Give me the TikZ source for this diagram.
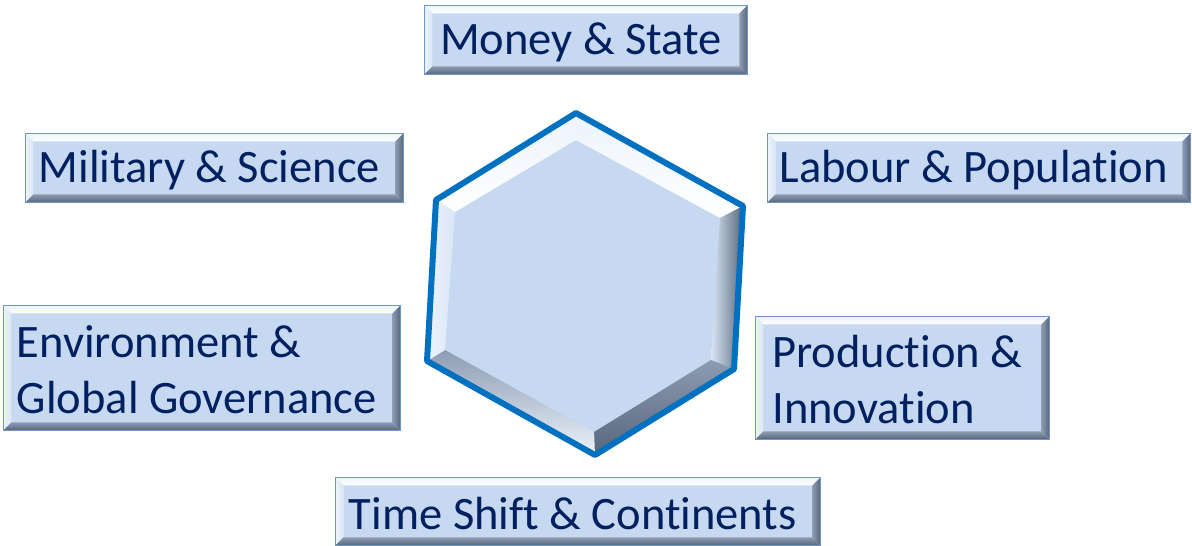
\documentclass[tikz,border=0pt]{standalone}
\usepackage{fontspec}
\setmainfont{Carlito}[Ligatures=NoCommon]
\usetikzlibrary{calc}
\definecolor{boxfill}{RGB}{198,217,241}
\definecolor{boxline}{RGB}{110,150,205}
\definecolor{navy}{RGB}{0,32,96}
\definecolor{hexblue}{RGB}{0,112,192}
\definecolor{bevlight}{RGB}{236,243,251}
\definecolor{bevleft}{RGB}{218,230,245}
\definecolor{bevdarkA}{RGB}{140,156,178}
\definecolor{bevdarkB}{RGB}{88,102,124}
\newcommand{\padR}{\hspace*{10pt}}
\tikzset{
  bevbox/.style={draw=boxline, line width=0.8pt, fill=boxfill, text=navy,
    font=\fontsize{46.5}{56}\selectfont, inner sep=0pt, align=left,
    anchor=north west,
    path picture={
      \coordinate (nw) at (path picture bounding box.north west);
      \coordinate (ne) at (path picture bounding box.north east);
      \coordinate (sw) at (path picture bounding box.south west);
      \coordinate (se) at (path picture bounding box.south east);
      \shade[top color=bevlight, bottom color=white]
        (nw) -- (ne) -- ($(ne)+(-8pt,-8pt)$) -- ($(nw)+(8pt,-8pt)$) -- cycle;
      \shade[left color=bevlight, right color=bevleft]
        (nw) -- ($(nw)+(8pt,-8pt)$) -- ($(sw)+(8pt,8pt)$) -- (sw) -- cycle;
      \shade[left color=bevdarkA, right color=bevdarkB]
        (ne) -- (se) -- ($(se)+(-8pt,8pt)$) -- ($(ne)+(-8pt,-8pt)$) -- cycle;
      \shade[top color=bevdarkA, bottom color=bevdarkB]
        (sw) -- (se) -- ($(se)+(-8pt,8pt)$) -- ($(sw)+(8pt,8pt)$) -- cycle;
    }},
  hexline/.style={draw=hexblue, line width=6pt, line join=round}
}
\begin{document}
\begin{tikzpicture}[x=1pt,y=-1pt]
\useasboundingbox (0,0) rectangle (1192,546);

% boxes
\node[bevbox, minimum width=323pt, minimum height=69pt] (money) at (424,5) {\rule{0pt}{36pt}Money \& State\padR};
\node[bevbox, minimum width=378pt, minimum height=69pt] (military) at (25,133) {\rule{0pt}{36pt}Military \& Science\padR};
\node[bevbox, minimum width=423pt, minimum height=69pt] (labour) at (767,133) {\rule{0pt}{36pt}Labour \& Population\padR};
\node[bevbox, minimum width=397pt, minimum height=125pt] (env) at (3,305) {\rule{0pt}{36pt}Environment \&\\Global Governance\padR};
\node[bevbox, minimum width=294pt, minimum height=123pt] (prod) at (755,316) {\rule{0pt}{36pt}Production \&\padR\\Innovation};
\node[bevbox, minimum width=485pt, minimum height=68pt] (time) at (335,477) {\rule{0pt}{36pt}Time Shift \& Continents\padR};

% hexagon
\coordinate (P1) at (576,113);
\coordinate (P2) at (743,206);
\coordinate (P3) at (734,369);
\coordinate (P4) at (595,455);
\coordinate (P5) at (427,361);
\coordinate (P6) at (436,200);
\coordinate (Q1) at (576,140);
\coordinate (Q2) at (720,218);
\coordinate (Q3) at (711,360);
\coordinate (Q4) at (594,432);
\coordinate (Q5) at (445,350);
\coordinate (Q6) at (455,212);

\fill[boxfill] (P1) -- (P2) -- (P3) -- (P4) -- (P5) -- (P6) -- cycle;
\shade[top color=bevlight, bottom color=white] (P6) -- (P1) -- (Q1) -- (Q6) -- cycle;
\shade[top color=bevlight, bottom color=white] (P1) -- (P2) -- (Q2) -- (Q1) -- cycle;
\shade[left color=bevleft, right color=bevdarkB] (P2) -- (P3) -- (Q3) -- (Q2) -- cycle;
\shade[top color=bevdarkA, bottom color=bevdarkB] (P3) -- (P4) -- (Q4) -- (Q3) -- cycle;
\shade[top color=bevdarkA, bottom color=bevlight] (P4) -- (P5) -- (Q5) -- (Q4) -- cycle;
\shade[left color=bevlight, right color=bevleft] (P5) -- (P6) -- (Q6) -- (Q5) -- cycle;
\draw[hexline] (P1) -- (P2) -- (P3) -- (P4) -- (P5) -- (P6) -- cycle;
\end{tikzpicture}
\end{document}
